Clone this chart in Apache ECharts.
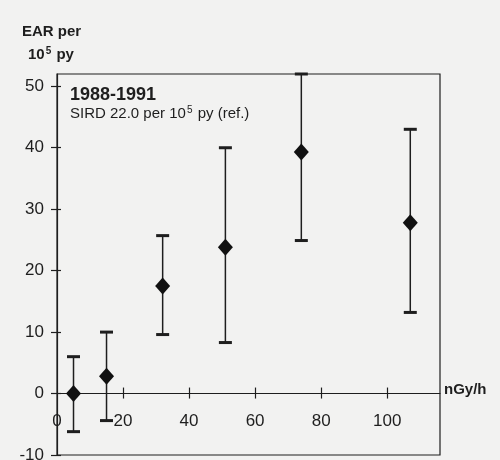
<!DOCTYPE html>
<html>
<head>
<meta charset="utf-8">
<script src="https://cdn.jsdelivr.net/npm/echarts@6/dist/echarts.min.js"></script>
<style>
  html, body { margin: 0; padding: 0; background: #f2f2f1; }
  #chart { width: 500px; height: 460px; }
</style>
</head>
<body>
<div id="chart"></div>
<script>
// dose rate (nGy/h) and excess absolute rate per 10^5 py
var doseRate = [5, 15, 32, 51, 74, 107];
var ear = [0, 2.8, 17.5, 23.8, 39.3, 27.8];
var earLow = [-6.2, -4.4, 9.6, 8.3, 24.9, 13.2];
var earHigh = [6, 10, 25.7, 40, 52, 43];
var yTicks = [-10, 0, 10, 20, 30, 40, 50];
var xTicks = [20, 40, 60, 80, 100];
var xLabels = [0, 20, 40, 60, 80, 100];

var ink = '#1e1e1e';
var font = 'Liberation Sans, Arial, sans-serif';

// plot box
var gridTop = 74, gridBottom = 5, yMin = -10, yMax = 52;
var gridH = 460 - gridTop - gridBottom;
// x axis sits on y = 0, so lift it from the box bottom
var xOffset = -(0 - yMin) / (yMax - yMin) * gridH;

var chart = echarts.init(document.getElementById('chart'));

// error bars: stem + two caps
function renderBar(params, api) {
  var x = api.value(0);
  var lo = api.coord([x, api.value(1)]);
  var hi = api.coord([x, api.value(2)]);
  var half = 6.5;
  return {
    type: 'group',
    children: [
      { type: 'line', shape: { x1: lo[0], y1: lo[1], x2: hi[0], y2: hi[1] },
        style: { stroke: ink, lineWidth: 1.5 } },
      { type: 'line', shape: { x1: lo[0] - half, y1: lo[1], x2: lo[0] + half, y2: lo[1] },
        style: { stroke: ink, lineWidth: 3 } },
      { type: 'line', shape: { x1: hi[0] - half, y1: hi[1], x2: hi[0] + half, y2: hi[1] },
        style: { stroke: ink, lineWidth: 3 } }
    ]
  };
}

var barData = doseRate.map(function (d, i) { return [d, earLow[i], earHigh[i]]; });
var pointData = doseRate.map(function (d, i) { return [d, ear[i]]; });

chart.setOption({
  backgroundColor: '#f2f2f1',
  animation: false,
  title: [
    { text: 'EAR per', left: 22, top: 24, padding: 0,
      textStyle: { fontFamily: font, fontSize: 15, fontWeight: 'bold', color: ink } },
    { text: '10{sup|5} py', left: 28, top: 46, padding: 0,
      textStyle: { fontFamily: font, fontSize: 15, fontWeight: 'bold', color: ink,
        rich: { sup: { fontSize: 10, fontWeight: 'bold', verticalAlign: 'top', padding: [0, 1, 8, 1], color: ink } } } },
    { text: '1988-1991', left: 70, top: 86, padding: 0,
      textStyle: { fontFamily: font, fontSize: 18, fontWeight: 'bold', color: ink } },
    { text: 'SIRD 22.0 per 10{sup|5} py (ref.)', left: 70, top: 105, padding: 0,
      textStyle: { fontFamily: font, fontSize: 15, fontWeight: 'normal', color: ink,
        rich: { sup: { fontSize: 10, verticalAlign: 'top', padding: [0, 1, 8, 1], color: ink } } } }
  ],
  grid: {
    left: 57, right: 60, top: gridTop, bottom: gridBottom,
    outerBoundsMode: 'none', containLabel: false,
    show: true, borderColor: ink, borderWidth: 1.2, backgroundColor: 'transparent'
  },
  xAxis: [
    {
      type: 'value', min: 0, max: 116, position: 'bottom', offset: xOffset,
      axisLine: { onZero: false, lineStyle: { color: ink, width: 1.2 } },
      axisTick: { inside: true, length: 6, customValues: xTicks, lineStyle: { color: ink, width: 1.2 } },
      axisLabel: { customValues: xLabels, margin: 19, fontFamily: font, fontSize: 17, color: ink },
      splitLine: { show: false },
      name: 'nGy/h', nameLocation: 'end', nameGap: 4,
      nameTextStyle: { fontFamily: font, fontSize: 15, fontWeight: 'bold', color: ink, verticalAlign: 'bottom', lineHeight: 7 }
    },
    {
      type: 'value', min: 0, max: 116, position: 'bottom', offset: xOffset,
      axisLine: { show: false, onZero: false },
      axisTick: { inside: false, length: 5, customValues: xTicks, lineStyle: { color: ink, width: 1.2 } },
      axisLabel: { show: false },
      splitLine: { show: false }
    }
  ],
  yAxis: [
    {
      type: 'value', min: yMin, max: yMax,
      axisLine: { show: true, onZero: false, lineStyle: { color: ink, width: 1.2 } },
      axisTick: { show: true, length: 6, customValues: yTicks, lineStyle: { color: ink, width: 1.2 } },
      axisLabel: { customValues: yTicks, margin: 13, fontFamily: font, fontSize: 17, color: ink },
      splitLine: { show: false }
    },
    {
      type: 'value', min: yMin, max: yMax, position: 'left',
      axisLine: { show: false, onZero: false },
      axisTick: { show: true, inside: true, length: 4, customValues: yTicks, lineStyle: { color: ink, width: 1.2 } },
      axisLabel: { show: false },
      splitLine: { show: false }
    }
  ],
  series: [
    {
      type: 'custom',
      renderItem: renderBar,
      data: barData,
      encode: { x: 0, y: [1, 2] },
      z: 2
    },
    {
      type: 'scatter',
      data: pointData,
      symbol: 'diamond',
      symbolSize: [15, 17],
      itemStyle: { color: '#111', opacity: 1 },
      z: 3
    }
  ]
});
</script>
</body>
</html>
